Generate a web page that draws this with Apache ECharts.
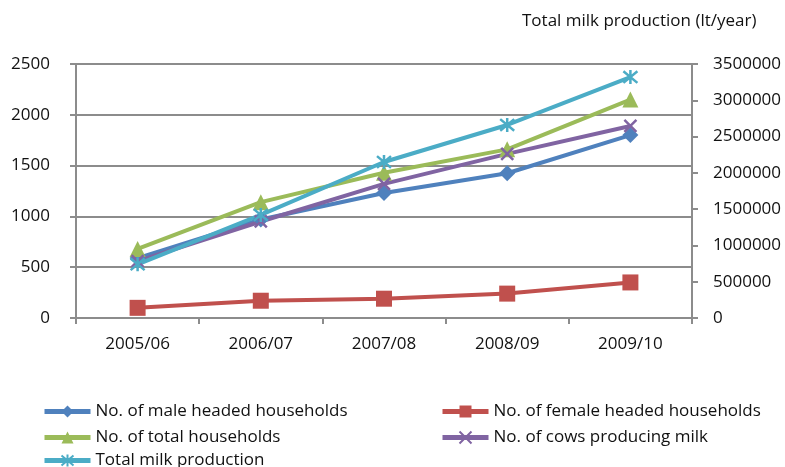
<!DOCTYPE html>
<html>
<head>
<meta charset="utf-8">
<script src="https://cdn.jsdelivr.net/npm/echarts@6/dist/echarts.min.js"></script>
<style>
  html, body { margin: 0; padding: 0; background: #fff; }
  #chart { width: 785px; height: 467px; }
</style>
</head>
<body>
<div id="chart"></div>
<script>
// Seasons on the category axis
const seasons = ['2005/06', '2006/07', '2007/08', '2008/09', '2009/10'];

// Household and herd counts (left axis)
const maleHeaded = [590, 970, 1230, 1425, 1800];
const femaleHeaded = [100, 170, 190, 240, 350];
const totalHouseholds = [680, 1140, 1430, 1660, 2150];
const cowsMilking = [560, 950, 1320, 1615, 1890];

// Milk output in litres per year (right axis)
const milkProduction = [740000, 1420000, 2150000, 2660000, 3320000];

const FONT = 'Open Sans';
const AXIS_GREY = '#8c8c8c';
const TEXT = '#111';

const crossPath = 'path://M0,0L10,10M10,0L0,10';
const asteriskPath = 'path://M0,0L10,10M10,0L0,10M5,-1L5,11';

function lineSeries(name, data, color, symbol, size, yIndex, opts) {
  return Object.assign({
    name: name,
    type: 'line',
    data: data,
    yAxisIndex: yIndex,
    symbol: symbol,
    symbolSize: size,
    showAllSymbol: true,
    lineStyle: { color: color, width: 4 },
    itemStyle: { color: color },
    emphasis: { disabled: true },
    animation: false
  }, opts || {});
}

// One legend block per entry so each sits in its own row/column slot
function legendAt(name, left, top) {
  return {
    data: [name],
    left: left,
    top: top,
    padding: 0,
    itemWidth: 46,
    itemHeight: 15,
    lineStyle: { width: 5 },
    textStyle: { fontFamily: FONT, fontSize: 17, color: TEXT }
  };
}

const plainNumber = v => String(v);

const chart = echarts.init(document.getElementById('chart'), null, { renderer: 'canvas' });

chart.setOption({
  animation: false,
  textStyle: { fontFamily: FONT },
  title: {
    text: 'Total milk production (lt/year)',
    left: 522,
    top: 13,
    padding: 0,
    textStyle: { fontFamily: FONT, fontSize: 17, fontWeight: 'normal', color: TEXT }
  },
  grid: { left: 76, right: 93, top: 64, bottom: 149 },
  legend: [
    legendAt('No. of male headed households', 42, 403),
    legendAt('No. of total households', 42, 429),
    legendAt('Total milk production', 42, 452),
    legendAt('No. of female headed households', 440, 403),
    legendAt('No. of cows producing milk', 440, 429)
  ],
  xAxis: {
    type: 'category',
    data: seasons,
    boundaryGap: true,
    axisLine: { lineStyle: { color: AXIS_GREY, width: 2 } },
    axisTick: { show: true, length: 6, lineStyle: { color: AXIS_GREY, width: 2 } },
    axisLabel: { margin: 18, fontFamily: FONT, fontSize: 17, color: TEXT }
  },
  yAxis: [
    {
      type: 'value',
      min: 0,
      max: 2500,
      interval: 500,
      position: 'left',
      axisLine: { show: true, lineStyle: { color: AXIS_GREY, width: 2 } },
      axisTick: { show: true, length: 6, lineStyle: { color: AXIS_GREY, width: 2 } },
      splitLine: { show: true, lineStyle: { color: AXIS_GREY, width: 2 } },
      axisLabel: { margin: 26, fontFamily: FONT, fontSize: 17, color: TEXT, formatter: plainNumber }
    },
    {
      type: 'value',
      min: 0,
      max: 3500000,
      interval: 500000,
      position: 'right',
      axisLine: { show: true, lineStyle: { color: AXIS_GREY, width: 2 } },
      axisTick: { show: true, length: 6, lineStyle: { color: AXIS_GREY, width: 2 } },
      splitLine: { show: false },
      axisLabel: { margin: 21, fontFamily: FONT, fontSize: 17, color: TEXT, formatter: plainNumber }
    }
  ],
  series: [
    lineSeries('No. of male headed households', maleHeaded, '#4F81BD', 'diamond', 16, 0),
    lineSeries('No. of female headed households', femaleHeaded, '#C0504D', 'rect', 16, 0),
    lineSeries('No. of total households', totalHouseholds, '#9BBB59', 'triangle', 16, 0),
    lineSeries('No. of cows producing milk', cowsMilking, '#8064A2', crossPath, 12, 0, {
      itemStyle: { color: 'none', borderColor: '#8064A2', borderWidth: 2.5 }
    }),
    lineSeries('Total milk production', milkProduction, '#4BACC6', asteriskPath, 14, 1, {
      itemStyle: { color: 'none', borderColor: '#4BACC6', borderWidth: 2.5 }
    })
  ]
});
</script>
</body>
</html>
